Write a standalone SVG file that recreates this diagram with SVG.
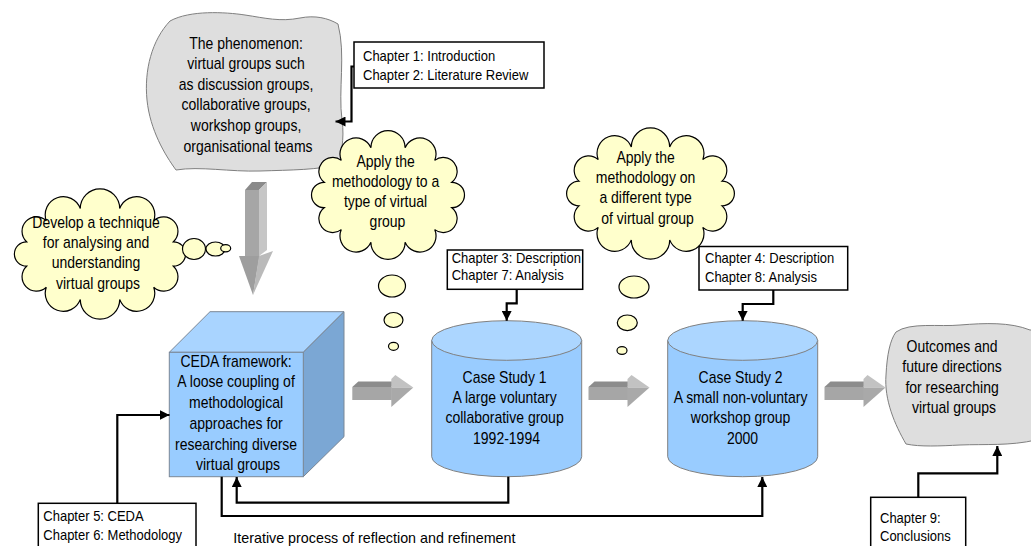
<svg xmlns="http://www.w3.org/2000/svg" width="1031" height="546" viewBox="0 0 1031 546">
  <defs>
    <style>
      text { font-family: "Liberation Sans", Arial, sans-serif; fill: #000; }
      .big { font-size: 14px; text-anchor: middle; }
      .chap { font-size: 13px; }
      .note { font-size: 14.3px; }
      .cloud { fill: #ffffcc; stroke: #000; stroke-width: 1.2; }
      .blob { fill: #dedede; stroke: #7f7f7f; stroke-width: 1; }
      .box { fill: #fff; stroke: #000; stroke-width: 1.5; }
      .conn { fill: none; stroke: #000; stroke-width: 2.2; marker-end: url(#ah); }
      .edge { stroke: #7a8796; stroke-width: 1; }
      .cyl-body { fill: #99ccff; stroke: #808080; stroke-width: 1; }
      .cyl-top { fill: #acd6ff; stroke: #808080; stroke-width: 1; }
    </style>
    <marker id="ah" markerUnits="userSpaceOnUse" viewBox="0 0 10 10" markerWidth="10" markerHeight="10" refX="10" refY="5" orient="auto">
      <path d="M0,0 L10,5 L0,10 z" fill="#000"/>
    </marker>
    <!-- grey 3D block arrow pointing right, origin at shaft's top-left -->
    <g id="blockRight">
      <polygon points="0,12 6,6.5 43,6.5 39,12" fill="#8c8c8c"/>
      <rect x="0" y="12" width="39.5" height="13" fill="#a6a6a6"/>
      <polygon points="39,4 43,0 61,12.5 39,12.5" fill="#c2c2c2"/>
      <polygon points="39,12.5 61,12.5 39,32" fill="#a9a9a9"/>
    </g>
  </defs>

  <!-- The phenomenon -->
  <g id="phenomenon">
    <path class="blob" d="M170,21 C190,10 225,12 245,15 C265,18 280,22 300,18 C315,15 328,18 338,24 C346,55 338,90 342,120 C345,140 340,155 340,164 C320,170 290,170 260,171 C230,172 200,166 176,170 C165,155 150,130 147,100 C144,70 152,40 170,21 Z"/>
    <text class="big" transform="translate(248,48.5) scale(1,1.2)">
      <tspan x="0" dy="0">The phenomenon:</tspan>
      <tspan x="0" dy="17.2">virtual groups such</tspan>
      <tspan x="0" dy="17.2">as discussion groups,</tspan>
      <tspan x="0" dy="17.2">collaborative groups,</tspan>
      <tspan x="0" dy="17.2">workshop groups,</tspan>
      <tspan x="0" dy="17.2">organisational teams</tspan>
    </text>
  </g>

  <!-- Chapter 1/2 label -->
  <g id="ch1">
    <rect class="box" x="354" y="42" width="190" height="46"/>
    <text class="chap" transform="translate(363,61) scale(1,1.1)">
      <tspan x="0" dy="0">Chapter 1: Introduction</tspan>
      <tspan x="0" dy="17.3">Chapter 2: Literature Review</tspan>
    </text>
  </g>

  <!-- Thought cloud: develop a technique -->
  <g id="cloud-develop">
    <path class="cloud" d="M173.4,266.2 A1,1 0 0 1 153.7,287.2 A1,1 0 0 1 119.7,299.4 A1,1 0 0 1 80.3,299.4 A1,1 0 0 1 46.3,287.2 A1,1 0 0 1 26.6,266.2 A1,1 0 0 1 26.6,241.8 A1,1 0 0 1 46.3,220.8 A1,1 0 0 1 80.3,208.6 A1,1 0 0 1 119.7,208.6 A1,1 0 0 1 153.7,220.8 A1,1 0 0 1 173.4,241.8 A1,1 0 0 1 173.4,266.2 Z"/>
    <ellipse class="cloud" cx="194" cy="249" rx="11.5" ry="10.5"/>
    <ellipse class="cloud" cx="215.5" cy="249" rx="9.5" ry="7"/>
    <ellipse class="cloud" cx="225.7" cy="248.3" rx="5" ry="3.6"/>
    <text class="big" transform="translate(98,227.7) scale(1,1.2)">
      <tspan x="0" dy="0">Develop a technique</tspan>
      <tspan x="0" dy="17">for analysing and</tspan>
      <tspan x="0" dy="17">understanding</tspan>
      <tspan x="0" dy="17">virtual groups</tspan>
    </text>
  </g>

  <!-- Thought cloud: apply to a type -->
  <g id="cloud-apply1">
    <path class="cloud" d="M451.8,207.7 A1,1 0 0 1 434.7,229.6 A1,1 0 0 1 405.1,242.3 A1,1 0 0 1 370.9,242.3 A1,1 0 0 1 341.3,229.6 A1,1 0 0 1 324.2,207.7 A1,1 0 0 1 324.2,182.3 A1,1 0 0 1 341.3,160.4 A1,1 0 0 1 370.9,147.7 A1,1 0 0 1 405.1,147.7 A1,1 0 0 1 434.7,160.4 A1,1 0 0 1 451.8,182.3 A1,1 0 0 1 451.8,207.7 Z"/>
    <ellipse class="cloud" cx="392" cy="286" rx="13.5" ry="11"/>
    <ellipse class="cloud" cx="393.5" cy="320" rx="9.5" ry="7.5"/>
    <ellipse class="cloud" cx="393.5" cy="346.3" rx="5" ry="4"/>
    <text class="big" transform="translate(387.5,166.7) scale(1,1.2)">
      <tspan x="0" dy="0">Apply the</tspan>
      <tspan x="0" dy="16.7">methodology to a</tspan>
      <tspan x="0" dy="16.7">type of virtual</tspan>
      <tspan x="0" dy="16.7">group</tspan>
    </text>
  </g>

  <!-- Thought cloud: apply to a different type -->
  <g id="cloud-apply2">
    <path class="cloud" d="M722,205.9 A1,1 0 0 1 702.8,227.4 A1,1 0 0 1 669.7,239.9 A1,1 0 0 1 631.3,239.9 A1,1 0 0 1 598.2,227.4 A1,1 0 0 1 579,205.9 A1,1 0 0 1 579,181.1 A1,1 0 0 1 598.2,159.6 A1,1 0 0 1 631.3,147.1 A1,1 0 0 1 669.7,147.1 A1,1 0 0 1 702.8,159.6 A1,1 0 0 1 722,181.1 A1,1 0 0 1 722,205.9 Z"/>
    <ellipse class="cloud" cx="634" cy="287" rx="15" ry="11"/>
    <ellipse class="cloud" cx="627.3" cy="322.8" rx="10" ry="7.8"/>
    <ellipse class="cloud" cx="622" cy="350.5" rx="5" ry="3.8"/>
    <text class="big" transform="translate(647.5,162.7) scale(1,1.2)">
      <tspan x="0" dy="0">Apply the</tspan>
      <tspan x="0" dy="17">methodology on</tspan>
      <tspan x="0" dy="17">a different type</tspan>
      <tspan x="0" dy="17">of virtual group</tspan>
    </text>
  </g>

  <!-- Down arrow from the phenomenon to the framework -->
  <g id="arrow-down">
    <polygon points="245,190 252,182 267,182 259,190" fill="#8a8a8a"/>
    <rect x="245" y="190" width="14.5" height="66" fill="#a6a6a6"/>
    <polygon points="259,190 267,182 267,250 259,256" fill="#c6c6c6"/>
    <polygon points="239,256 259.5,256 253,295" fill="#9e9e9e"/>
    <polygon points="259,256 273,251 253,295" fill="#bababa"/>
  </g>

  <!-- CEDA framework cube -->
  <g id="ceda">
    <polygon class="edge" points="169.3,352.3 210,311.7 344,311.7 303.3,352.3" fill="#a9d4ff"/>
    <polygon class="edge" points="303.3,352.3 344,311.7 344,436.7 303.3,476.7" fill="#7ba7d4"/>
    <rect class="edge" x="169.3" y="352.3" width="134" height="124.4" fill="#99ccff"/>
    <text class="big" transform="translate(238,366.7) scale(1,1.2)">
      <tspan x="0" dy="0">CEDA framework:</tspan>
      <tspan x="0" dy="17.3">A loose coupling of</tspan>
      <tspan x="0" dy="17.3">methodological</tspan>
      <tspan x="0" dy="17.3">approaches for</tspan>
      <tspan x="0" dy="17.3">researching diverse</tspan>
      <tspan x="0" dy="17.3">virtual groups</tspan>
    </text>
  </g>

  <!-- Case study 1 -->
  <g id="case1">
    <path class="cyl-body" d="M431.7,340.5 V456.7 A75,20 0 0 0 581.7,456.7 V340.5 Z"/>
    <ellipse class="cyl-top" cx="506.7" cy="340.5" rx="75" ry="19.8"/>
    <text class="big" transform="translate(506.5,382.7) scale(1,1.2)">
      <tspan x="0" dy="0">Case Study 1</tspan>
      <tspan x="0" dy="17">A large voluntary</tspan>
      <tspan x="0" dy="17">collaborative group</tspan>
      <tspan x="0" dy="17">1992-1994</tspan>
    </text>
  </g>

  <!-- Case study 2 -->
  <g id="case2">
    <path class="cyl-body" d="M667.7,340.5 V456.7 A75,20 0 0 0 817.7,456.7 V340.5 Z"/>
    <ellipse class="cyl-top" cx="742.7" cy="340.5" rx="75" ry="19.8"/>
    <text class="big" transform="translate(742.5,382.7) scale(1,1.2)">
      <tspan x="0" dy="0">Case Study 2</tspan>
      <tspan x="0" dy="17">A small non-voluntary</tspan>
      <tspan x="0" dy="17">workshop group</tspan>
      <tspan x="0" dy="17">2000</tspan>
    </text>
  </g>

  <!-- Outcomes -->
  <g id="outcomes">
    <path class="blob" d="M896,332 C910,322 940,327 960,325 C985,323 1010,322 1030,330 L1036,330 L1036,440 C1010,446 985,444 960,445 C940,446 920,447 906,444 C895,425 884,400 886,375 C887,355 890,340 896,332 Z"/>
    <text class="big" transform="translate(954,352) scale(1,1.2)">
      <tspan x="0" dy="0">Outcomes and</tspan>
      <tspan x="0" dy="17">future directions</tspan>
      <tspan x="0" dy="17">for researching</tspan>
      <tspan x="0" dy="17">virtual groups</tspan>
    </text>
  </g>

  <!-- Chapter labels -->
  <g id="ch3">
    <rect class="box" x="447.3" y="250" width="135.4" height="39.3"/>
    <text class="chap" transform="translate(451.7,262.7) scale(1,1.1)">
      <tspan x="0" dy="0">Chapter 3: Description</tspan>
      <tspan x="0" dy="15.7">Chapter 7: Analysis</tspan>
    </text>
  </g>
  <g id="ch4">
    <rect class="box" x="699" y="246.5" width="148.7" height="43.5"/>
    <text class="chap" transform="translate(705,263.3) scale(1,1.1)">
      <tspan x="0" dy="0">Chapter 4: Description</tspan>
      <tspan x="0" dy="16.7">Chapter 8: Analysis</tspan>
    </text>
  </g>
  <g id="ch5">
    <rect class="box" x="38.3" y="503.3" width="157.7" height="50"/>
    <text class="chap" transform="translate(43.3,520.7) scale(1,1.1)">
      <tspan x="0" dy="0">Chapter 5: CEDA</tspan>
      <tspan x="0" dy="17.5">Chapter 6: Methodology</tspan>
    </text>
  </g>
  <g id="ch9">
    <rect class="box" x="870.7" y="497.3" width="95" height="50"/>
    <text class="chap" transform="translate(880,522.5) scale(1,1.1)">
      <tspan x="0" dy="0">Chapter 9:</tspan>
      <tspan x="0" dy="16.4">Conclusions</tspan>
    </text>
  </g>

  <!-- Flow arrows between stages -->
  <g id="flow-arrows">
    <use href="#blockRight" x="352.3" y="375"/>
    <use href="#blockRight" x="588.5" y="375"/>
    <use href="#blockRight" x="824.5" y="375"/>
  </g>

  <!-- Connectors -->
  <g id="connectors">
    <path class="conn" d="M354,66.5 H351.5 V121.5 H335.5"/>
    <path class="conn" d="M516.7,289.3 V303.3 H506.7 V320.8"/>
    <path class="conn" d="M773.3,290 V304 H742.7 V320.8"/>
    <path class="conn" d="M117.3,503.3 V415 H169.5"/>
    <path class="conn" d="M918.3,497.3 V473.3 H997.3 V446"/>
    <path class="conn" d="M508.3,476.7 V502.7 H236.7 V477"/>
    <path class="conn" d="M221.7,476.7 V516 H762.3 V477"/>
  </g>

  <text class="note" x="233.3" y="543.3">Iterative process of reflection and refinement</text>
</svg>
